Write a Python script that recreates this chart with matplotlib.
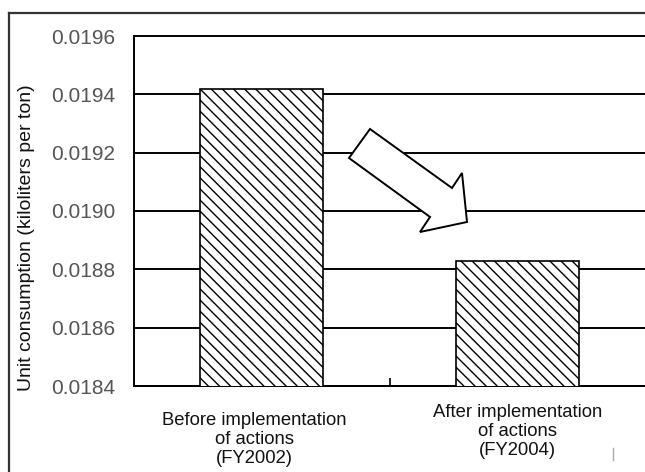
import matplotlib
matplotlib.use("Agg")
import matplotlib.pyplot as plt
from matplotlib.patches import Polygon
from matplotlib.lines import Line2D

plt.rcParams['font.family'] = ['Liberation Sans', 'DejaVu Sans']
plt.rcParams['hatch.linewidth'] = 1.0

categories = ["Before implementation\nof actions\n(FY2002)",
              "After implementation\nof actions\n(FY2004)"]
values = [0.01942, 0.01883]
yticks = [0.0184, 0.0186, 0.0188, 0.0190, 0.0192, 0.0194, 0.0196]
ytick_labels = ["0.0184", "0.0186", "0.0188", "0.0190", "0.0192", "0.0194", "0.0196"]

fig = plt.figure(figsize=(6.45, 4.72), dpi=100)
ax = fig.add_axes([134/645, 1-386/472, 511/645, 350/472])

x = list(range(len(values)))
ax.set_xlim(-0.498, 1.498)
ax.set_ylim(yticks[0], yticks[-1])

# gridlines
for yv in yticks:
    ax.axhline(yv, color='black', lw=1.4, zorder=1, clip_on=False)

ax.bar(x, values, width=0.477, bottom=0, facecolor='white', edgecolor='black',
       hatch='\\\\\\', linewidth=1.2, zorder=3)

ax.set_yticks(yticks)
ax.set_yticklabels(ytick_labels, fontsize=15, color='#555555')
ax.tick_params(axis='y', length=0, pad=13.5)
ax.set_xticks([])
ax.set_xticks([0.5], minor=True)
ax.tick_params(axis='x', which='minor', direction='in', length=6, width=1.2, color='black')
ax.tick_params(axis='x', which='minor', labelbottom=False)

for s in ['top', 'right']:
    ax.spines[s].set_visible(False)
ax.spines['left'].set_linewidth(1.4)
ax.spines['bottom'].set_linewidth(1.4)

# category labels
label_offsets = [(-0.027, -0.152), (0.0, -0.130)]
for i, (lab, (dx, yy)) in enumerate(zip(categories, label_offsets)):
    ax.text(x[i] + dx, yy, lab, transform=ax.get_xaxis_transform(),
            ha='center', va='center', fontsize=13.3, linespacing=1.15,
            color='#111111')

# y label
fig.text(27/645, 1-238/472, "Unit consumption (kiloliters per ton)",
         rotation=90, ha='center', va='center', fontsize=14, color='#111111')

# arrow (decorative)
arrow_pts = [(0.4618, 0.7343), (0.6223, 0.5657), (0.6419, 0.6086),
             (0.6517, 0.4686), (0.5597, 0.4400), (0.5793, 0.4829),
             (0.4207, 0.6514)]
ax.add_patch(Polygon(arrow_pts, closed=True, transform=ax.transAxes,
                     facecolor='white', edgecolor='black', lw=1.4, zorder=4))

# outer frame
fig.add_artist(Line2D([9/645, 9/645], [0, 1-13/472], transform=fig.transFigure,
                      color='#333333', lw=1.6))
fig.add_artist(Line2D([9/645, 1], [1-13/472, 1-13/472], transform=fig.transFigure,
                      color='#333333', lw=1.6))
fig.add_artist(Line2D([613/645, 613/645], [1-448/472, 1-460/472], transform=fig.transFigure,
                      color='#aaaaaa', lw=1.0))

fig.savefig("out.png", dpi=100)
